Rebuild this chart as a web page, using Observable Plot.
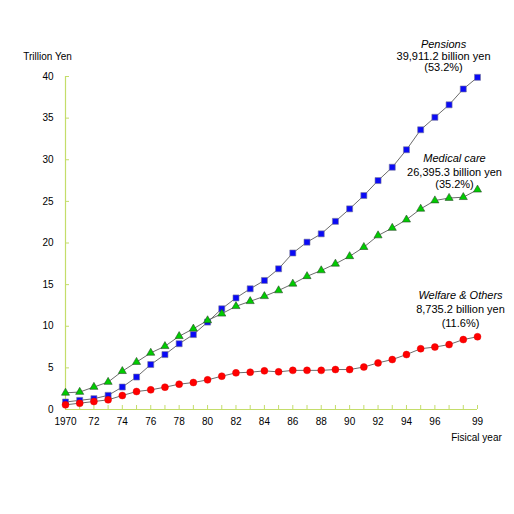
<!DOCTYPE html>
<html>
<head>
<meta charset="utf-8">
<script src="https://cdn.jsdelivr.net/npm/d3@7"></script>
<script src="https://cdn.jsdelivr.net/npm/@observablehq/plot@0.6"></script>
<style>
  html, body { margin: 0; padding: 0; background: #fff; }
</style>
</head>
<body>
<div id="chart"></div>
<script>
const years = d3.range(1970, 2000);
const pensions = [0.9, 1.1, 1.3, 1.7, 2.7, 3.9, 5.4, 6.6, 7.9, 9.0, 10.5, 12.1, 13.4, 14.5, 15.5, 16.9, 18.8, 20.1, 21.1, 22.6, 24.1, 25.7, 27.5, 29.1, 31.2, 33.6, 35.1, 36.6, 38.5, 39.9];
const medical = [2.0, 2.1, 2.7, 3.3, 4.6, 5.7, 6.8, 7.6, 8.8, 9.7, 10.7, 11.5, 12.4, 13.0, 13.6, 14.3, 15.1, 16.0, 16.7, 17.5, 18.4, 19.5, 20.9, 21.8, 22.8, 24.1, 25.1, 25.4, 25.5, 26.4];
const welfare = [0.56, 0.76, 0.96, 1.16, 1.68, 2.16, 2.36, 2.68, 3.04, 3.24, 3.56, 4.0, 4.4, 4.48, 4.64, 4.52, 4.7, 4.7, 4.7, 4.8, 4.8, 5.1, 5.6, 6.0, 6.6, 7.3, 7.5, 7.8, 8.4, 8.74];
const yTicks = [0, 5, 10, 15, 20, 25, 30, 35, 40];
const xTickLabels = {1970: "1970", 1972: "72", 1974: "74", 1976: "76", 1978: "78", 1980: "80", 1982: "82", 1984: "84", 1986: "86", 1988: "88", 1990: "90", 1992: "92", 1994: "94", 1996: "96", 1999: "99"};
const seriesNames = ["Pensions", "Medical care", "Welfare & Others"];
const seriesAmounts = ["39,911.2 billion yen", "26,395.3 billion yen", "8,735.2 billion yen"];
const seriesShares = ["(53.2%)", "(35.2%)", "(11.6%)"];
const yLabel = "Trillion Yen";
const xLabel = "Fisical year";

const rows = (vals) => years.map((y, i) => ({year: y, value: vals[i]}));
const P = rows(pensions), M = rows(medical), W = rows(welfare);
const axisColor = "#c4dd6a";
const lineColor = "#5a5a5a";

function labels(data, i, dx, dys) {
  const last = [data[data.length - 1]];
  const common = {x: "year", y: "value", dx, textAnchor: "middle", fontSize: 11, fill: "#000"};
  return [
    Plot.text(last, {...common, text: () => seriesNames[i], dy: dys[0], fontStyle: "italic"}),
    Plot.text(last, {...common, text: () => seriesAmounts[i], dy: dys[1]}),
    Plot.text(last, {...common, text: () => seriesShares[i], dy: dys[2]})
  ];
}

const chart = Plot.plot({
  width: 514,
  height: 514,
  marginLeft: 65,
  marginRight: 37,
  marginTop: 76,
  marginBottom: 105,
  style: {fontFamily: "Arial, 'Liberation Sans', sans-serif", fontSize: "10px", color: "#000", background: "#fff"},
  x: {domain: [1970, 1999]},
  y: {domain: [0, 40]},
  marks: [
    Plot.ruleY([0], {stroke: axisColor, strokeWidth: 1.2}),
    Plot.ruleX([1970], {stroke: axisColor, strokeWidth: 1.2}),
    Plot.axisY(yTicks, {anchor: "left", tickSize: -4, tickPadding: 16, stroke: axisColor, label: null, fontSize: 10}),
    Plot.axisX(years, {anchor: "bottom", tickSize: -4, tickPadding: 12, stroke: axisColor, label: null, fontSize: 10, tickFormat: d => xTickLabels[d] ?? ""}),
    Plot.line(P, {x: "year", y: "value", stroke: lineColor, strokeWidth: 0.9}),
    Plot.line(M, {x: "year", y: "value", stroke: lineColor, strokeWidth: 0.9}),
    Plot.line(W, {x: "year", y: "value", stroke: lineColor, strokeWidth: 0.9}),
    Plot.dot(P, {x: "year", y: "value", symbol: "square", r: 3.4, fill: "#0a0af5", stroke: "#7a7a9a", strokeWidth: 0.6}),
    Plot.dot(M, {x: "year", y: "value", symbol: "triangle", r: 3.0, fill: "#00cc00", stroke: "#2a4a2a", strokeWidth: 0.6}),
    Plot.dot(W, {x: "year", y: "value", symbol: "circle", r: 3.5, fill: "#ff0000", stroke: "#e00000", strokeWidth: 0.4}),
    ...labels(P, 0, -34, [-33, -21, -10]),
    ...labels(M, 1, -23, [-31, -17, -5]),
    ...labels(W, 2, -17, [-41, -27, -13]),
    Plot.text([yLabel], {frameAnchor: "top-left", dx: -18, dy: -24, textAnchor: "middle", fontSize: 10, fill: "#000"}),
    Plot.text([xLabel], {frameAnchor: "bottom-right", dx: -1, dy: 31, textAnchor: "middle", fontSize: 10, fill: "#000"})
  ]
});
document.getElementById("chart").appendChild(chart);
</script>
</body>
</html>
